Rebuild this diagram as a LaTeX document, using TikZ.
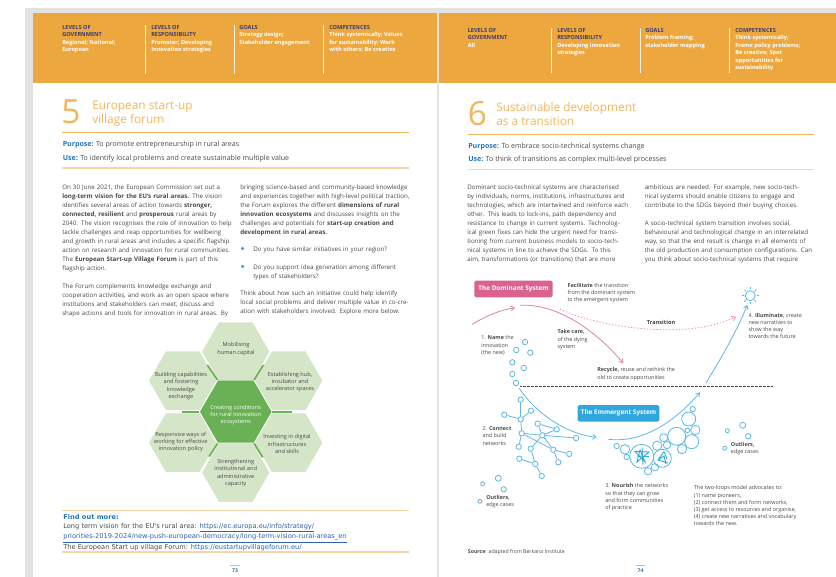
\documentclass[tikz,border=0pt]{standalone}
\usepackage{fontspec}
\setmainfont{Open Sans}
\newfontfamily\fallbackfont{DejaVu Sans}
\usetikzlibrary{shapes.geometric,arrows.meta}
\definecolor{orangeband}{HTML}{ECA83F}
\definecolor{titleorange}{HTML}{F3B65C}
\definecolor{paleorange}{HTML}{F9D7A4}
\definecolor{navy}{HTML}{3D3A70}
\definecolor{bodygrey}{HTML}{4A4A4A}
\definecolor{useblue}{HTML}{1F77B8}
\definecolor{hexlight}{HTML}{D5E5C8}
\definecolor{hexdark}{HTML}{6AB055}
\definecolor{pinkbox}{HTML}{D9628F}
\definecolor{lblue}{HTML}{5CB9E6}
\definecolor{boxblue}{HTML}{2FA6DE}
\definecolor{linkblue}{HTML}{2F62A8}
\definecolor{edge}{HTML}{E2E2E2}
\newcommand\jl[1]{\par\noindent\hbox to\hsize{#1}\par}
\newcommand\hb[1]{\textcolor{navy}{#1}}
\newcommand\blink[1]{\textcolor{linkblue}{\underline{#1}}}
\tikzset{
  x=0.75pt,y=-0.75pt,
  txt/.style={anchor=north west,inner sep=0,align=left,text=bodygrey},
  head/.style={txt,text=white,font=\fontsize{4.2}{5.6}\selectfont\bfseries},
  sep/.style={draw=white!85!orangeband,line width=.7pt},
  titletext/.style={txt,text=titleorange,font=\fontsize{8.9}{10.4}\selectfont},
  bignum/.style={anchor=center,inner sep=0,text=titleorange,font=\fontsize{25}{25}\selectfont},
  toprule/.style={draw=titleorange,line width=.7pt},
  softrule/.style={draw=paleorange,line width=.9pt},
  purp/.style={txt,font=\fontsize{5.3}{6.5}\selectfont},
  bodycol/.style={txt,text width=126.75pt,font=\fontsize{4.65}{6.75}\selectfont},
  small/.style={txt,font=\fontsize{4.08}{5.4}\selectfont},
  hexcell/.style={regular polygon,regular polygon sides=6,fill=hexlight,draw=white,line width=.9pt,inner sep=0,minimum size=51.8pt},
  hexcore/.style={hexcell,fill=hexdark,draw=none,minimum size=53.7pt},
  hextext/.style={align=center,inner sep=0,text=bodygrey,font=\fontsize{4.2}{5.5}\selectfont},
  spoke/.style={draw=hexdark,line width=1.3pt},
  bub/.style={circle,draw=lblue,line width=.6pt,inner sep=0,fill=white,minimum size=#1*1.5pt},
  link/.style={draw=lblue,line width=.6pt},
  flow/.style={line width=.6pt,-{Straight Barb[length=2.6pt,width=3.6pt]}},
  sysbox/.style={rounded corners=1.2pt,minimum height=12.4pt,inner sep=0,text=white,font=\fontsize{4.8}{6}\selectfont\bfseries},
  mini/.style={draw=boxblue,line width=.65pt},
  pageno/.style={inner sep=0,text=useblue,font=\fontsize{3.8}{5}\selectfont\bfseries},
}
\begin{document}
\begin{tikzpicture}
\useasboundingbox (0,0) rectangle (836,577);
\fill[white] (0,0) rectangle (836,577);
% page edges
\fill[edge] (25,8) rectangle (836,13.5);
\fill[edge] (25,8) rectangle (33,577);
\fill[edge] (437,13.5) rectangle (438.5,577);
% bands
\fill[orangeband] (33,13.5) rectangle (437,83);
\fill[orangeband] (438.5,13.5) rectangle (836,83);
\foreach \sx in {145.5,234.5,323.5} \draw[sep] (\sx,25) -- (\sx,74);
\foreach \sx in {551,640,729} \draw[sep] (\sx,28) -- (\sx,73);
\node[head] (la) at (62,25.1) {\hb{LEVELS OF}\\\hb{GOVERNMENT}\\Regional; National;\\European};
\node[head] (lb) at (151,25.1) {\hb{LEVELS OF}\\\hb{RESPONSIBILITY}\\Promoter; Developing\\Innovation strategies};
\node[head] (lc) at (239,25.1) {\hb{GOALS}\\Strategy design;\\Stakeholder engagement};
\node[head] (ld) at (329,25.1) {\hb{COMPETENCES}\\Think systemically; Values\\for sustainability; Work\\with others; Be creative};
\node[head] (ra) at (467.5,28) {\hb{LEVELS OF}\\\hb{GOVERNMENT}\\All};
\node[head] (rb) at (557,28) {\hb{LEVELS OF}\\\hb{RESPONSIBILITY}\\Developing innovation\\strategies};
\node[head] (rc) at (645,28) {\hb{GOALS}\\Problem framing;\\stakeholder mapping};
\node[head] (rd) at (735,28) {\hb{COMPETENCES}\\Think systemically;\\Frame policy problems;\\Be creative; Spot\\opportunities for\\sustainability};
% titles
\node[bignum] (n5) at (71,111.5) {5};
\node[titletext] (t5) at (92,100.5) {European start-up\\village forum};
\node[bignum] (n6) at (477.5,113.5) {6};
\node[titletext] (t6) at (496,102.5) {Sustainable development\\as a transition};
\draw[toprule] (62,132.3) -- (409,132.3);
\draw[toprule] (467.5,134.5) -- (814,134.5);
\node[purp] (p5) at (62.5,141) {\textcolor{useblue}{\bfseries Purpose:} To promote entrepreneurship in rural areas};
\node[purp] (u5) at (62.5,154.5) {\textcolor{useblue}{\bfseries Use:} To identify local problems and create sustainable multiple value};
\node[purp] (p6) at (468,143) {\textcolor{useblue}{\bfseries Purpose:} To embrace socio-technical systems change};
\node[purp] (u6) at (468,156) {\textcolor{useblue}{\bfseries Use:} To think of transitions as complex multi-level processes};
\draw[softrule] (62,168) -- (409,168);
\draw[softrule] (467.5,169.5) -- (814,169.5);
% left page text
\node[bodycol] (b1) at (62,180) {%
\jl{On 30 June 2021, the European Commission set out a}%
\jl{\bfseries long-term vision for the EU's rural areas. \mdseries The vision}%
\jl{identifies several areas of action towards \bfseries stronger,}%
\jl{\bfseries connected, resilient \mdseries and \bfseries prosperous \mdseries rural areas by}%
\jl{2040. The vision recognises the role of innovation to help}%
\jl{tackle challenges and reap opportunities for wellbeing}%
\jl{and growth in rural areas and includes a specific flagship}%
\jl{action on research and innovation for rural communities.}%
\jl{The \bfseries European Start-up Village Forum \mdseries is part of this}%
\par\noindent flagship action.\par\vspace{6.75pt}%
\jl{The Forum complements knowledge exchange and}%
\jl{cooperation activities, and work as an open space where}%
\jl{institutions and stakeholders can meet, discuss and}%
\jl{shape actions and tools for innovation in rural areas. By}};
\node[bodycol] (b2) at (240,180) {%
\jl{bringing science-based and community-based knowledge}%
\jl{and experiences together with high-level political traction,}%
\jl{the Forum explores the different \bfseries dimensions of rural}%
\jl{\bfseries innovation ecosystems \mdseries and discusses insights on the}%
\jl{challenges and potentials for \bfseries start-up creation and}%
\par\noindent\textbf{development in rural areas.}};
\node[circle,fill=boxblue,inner sep=0,minimum size=2.6pt] (d1) at (242.7,248.5) {};
\node[circle,fill=boxblue,inner sep=0,minimum size=2.6pt] (d2) at (242.7,266.5) {};
\node[bodycol,text width=117pt] (q1) at (253,246.5) {Do you have similar initiatives in your region?};
\node[bodycol,text width=117pt] (q2) at (253,260.5) {%
\jl{Do you support idea generation among different}%
\par\noindent types of stakeholders?};
\node[bodycol] (b3) at (240,286) {%
\jl{Think about how such an initiative could help identify}%
\jl{local social problems and deliver multiple value in co-cre-}%
\par\noindent ation with stakeholders involved. Explore more below.};
% hexagons
\node[hexcell] (hT) at (235.8,351.7) {};
\node[hexcell] (hUL) at (182.7,380.7) {};
\node[hexcell] (hUR) at (288.7,380.7) {};
\node[hexcell] (hLL) at (182.7,442.7) {};
\node[hexcell] (hLR) at (288.7,442.7) {};
\node[hexcell] (hB) at (235.8,472.5) {};
\node[hexcore] (core) at (235.8,411.7) {};
\coordinate (s1) at (207.3,365);
\coordinate (s2) at (181.7,411.7);
\coordinate (s3) at (209,456.7);
\coordinate (s4) at (262.7,457.3);
\coordinate (s5) at (291.7,411.7);
\coordinate (s6) at (263.3,365);
\draw[spoke] (core.120) -- (s1);
\draw[spoke] (core.180) -- (s2);
\draw[spoke] (core.240) -- (s3);
\draw[spoke] (core.300) -- (s4);
\draw[spoke] (core.0) -- (s5);
\draw[spoke] (core.60) -- (s6);
\node[hextext,text=white] (tc) at (235.7,415) {Creating conditions\\for rural innovation\\ecosystems};
\node[hextext] (tT) at (236,349) {Mobilising\\human capital};
\node[hextext] (tUL) at (181,386) {Building capabilities\\and fostering\\knowledge\\exchange};
\node[hextext] (tUR) at (290,382) {Establishing hub,\\incubator and\\accelerator spaces};
\node[hextext] (tLL) at (180.7,442) {Responsive ways of\\working for effective\\innovation policy};
\node[hextext] (tLR) at (287,444) {Investing in digital\\infrastructures\\and skills};
\node[hextext] (tB) at (235.7,473) {Strengthening\\institutional and\\administrative\\capacity};
% find out more
\draw[softrule] (62,510.7) -- (409,510.7);
\node[txt,font=\fallbackfont\fontsize{5}{6.75}\selectfont] (fm) at (63,514) {\textcolor{useblue}{\bfseries Find out more:}\\
Long term vision for the EU's rural area: \blink{https://ec.europa.eu/info/strategy/}\\
\blink{priorities-2019-2024/new-push-european-democracy/long-term-vision-rural-areas\_en}\\
The European Start up village Forum: \blink{https://eustartupvillageforum.eu/}};
\draw[softrule] (62,552) -- (409,552);
\draw[draw=titleorange,line width=.5pt] (230,565) -- (240,565);
\node[pageno] (pg73) at (235,571) {73};
% right page text
\node[bodycol] (c1) at (467,180) {%
\jl{Dominant socio-technical systems are characterised}%
\jl{by individuals, norms, institutions, infrastructures and}%
\jl{technologies, which are intertwined and reinforce each}%
\jl{other. This leads to lock-ins, path dependency and}%
\jl{resistance to change in current systems. Technolog-}%
\jl{ical green fixes can hide the urgent need for transi-}%
\jl{tioning from current business models to socio-tech-}%
\jl{nical systems in line to achieve the SDGs. To this}%
\jl{aim, transformations (or transitions) that are more}};
\node[bodycol] (c2) at (644.5,180) {%
\jl{ambitious are needed. For example, new socio-tech-}%
\jl{nical systems should enable citizens to engage and}%
\jl{contribute to the SDGs beyond their buying choices.}%
\par\vspace{6.75pt}%
\jl{A socio-technical system transition involves social,}%
\jl{behavioural and technological change in an interrelated}%
\jl{way, so that the end result is change in all elements of}%
\jl{the old production and consumption configurations. Can}%
\jl{you think about socio-technical systems that require}};
% diagram
\node[sysbox,fill=pinkbox,minimum width=58.8pt] (dom) at (513.5,289) {The Dominant System};
\node[sysbox,fill=boxblue,minimum width=61.2pt] (eme) at (618.5,413.3) {The Emmergent System};
\coordinate (pa) at (472.3,324.3);
\coordinate (pb) at (515,307.7);
\coordinate (pc) at (520,305.3);
\coordinate (pd) at (623.3,363.3);
\coordinate (pe) at (560,309);
\coordinate (pf) at (736,316.7);
\draw[flow,pinkbox!80!white] (pa) .. controls (485,316.5) and (500,310) .. (pb);
\draw[flow,pinkbox!80!white] (pc) .. controls (560,303) and (600,335) .. (pd);
\draw[flow,pinkbox!70!white,dash pattern=on 1pt off 1.4pt] (pe) .. controls (590,325) and (685,342) .. (pf);
\coordinate (da) at (520,386.3);
\coordinate (db) at (773,386.3);
\draw[draw=black!70,line width=.35pt,dash pattern=on .6pt off .4pt] (da) -- (db);
\coordinate (ba) at (519.3,388.3);
\coordinate (bb) at (596.7,437.3);
\coordinate (bc) at (608.3,439.3);
\coordinate (bd) at (700,392.3);
\coordinate (be) at (705.7,383.3);
\coordinate (bf) at (747.3,305);
\node[circle,draw=lblue,line width=.6pt,inner sep=0,minimum size=7.5pt] (sun) at (750.3,295.7) {};
\foreach \ang in {0,45,...,315}
  \draw[lblue,line width=.6pt] ([shift={(\ang:.6pt)}]sun.\ang) -- ([shift={(\ang:2.3pt)}]sun.\ang);
\draw[flow,lblue] (ba) .. controls (535,412) and (565,434) .. (bb);
\draw[flow,lblue] (bc) .. controls (640,443) and (672,425) .. (bd);
\draw[flow,lblue] (be) .. controls (720,360) and (735,335) .. (bf);
% labels
\node[small] (lfac) at (567.3,283.2) {\textbf{Facilitate} the transition\\from the dominant system\\to the emergent system};
\node[small,font=\fontsize{4.2}{5}\selectfont\bfseries,text=black!75] (ltr) at (646.7,320) {Transition};
\node[small] (ltake) at (557.3,329.5) {\textbf{Take care,}\\of the dying\\system};
\node[small] (lname) at (481,335.5) {1. \textbf{Name} the\\innovation\\(the new)};
\node[small] (lrec) at (597,367.5) {\textbf{Recycle,} reuse and rethink the\\old to create opportunities};
\node[small] (lill) at (748.3,313) {4. \textbf{Illuminate,} create\\new narratives to\\show the way\\towards the future};
\node[small] (lcon) at (482.3,426.5) {2. \textbf{Connect}\\and build\\networks};
\node[small] (lout1) at (486,494.8) {\textbf{Outliers,}\\edge cases};
\node[small] (lout2) at (730.7,441.8) {\textbf{Outliers,}\\edge cases};
\node[small] (lnou) at (605,483.5) {3. \textbf{Nourish} the networks\\so that they can grow\\and form communities\\of practice};
\node[small] (ltwo) at (693.7,485.5) {The two-loops model advocates to:\\(1) name pioneers,\\(2) connect them and form networks,\\(3) get access to resources and organise,\\(4) create new narratives and vocabulary\\towards the new.};
\node[small,font=\fontsize{3.9}{5}\selectfont] (lsrc) at (467.7,549) {\textbf{Source}: adapted from Berkana Institute};
\draw[draw=titleorange,line width=.5pt] (636,565) -- (645,565);
\node[pageno] (pg74) at (640.5,571) {74};
% name loop circles
\foreach \nm/\cx/\cy in {a1/525/342,a2/516.3/350,a3/530.3/352.7,a4/512.3/362.3,a5/523.7/368,a6/512.3/374,a7/516/383}
  \node[bub=2.7] (\nm) at (\cx,\cy) {};
% network
\foreach \nm/\cx/\cy in {c1/520.7/399.7,c2/504.3/414.7,c3/531/410.7,c4/520.7/419.3,c5/521.7/433.3,c6/537.7/423.7,c7/556.7/429.3,c8/542.3/435.3,c9/576/438,c10/518.7/446.7,c11/530.7/448.7,c12/553.3/449.7,c13/569.3/454,c14/558.3/462.3,c15/519.3/458.7,c16/535.3/464,c17/541.7/476}
  \node[bub=2.7] (\nm) at (\cx,\cy) {};
\foreach \pa/\pb in {c1/c4,c2/c4,c3/c4,c4/c5,c5/c8,c5/c10,c5/c12,c6/c7,c6/c8,c7/c8,c8/c9,c8/c11,c8/c12,c12/c13,c12/c14,c11/c16,c15/c16,c16/c17}
  \draw[link] (\pa) -- (\pb);
% outliers
\node[bub=3] (o1) at (498.3,478.3) {};
\node[bub=2] (o2) at (482.7,483.7) {};
\node[bub=2.7] (o3) at (503.7,489.3) {};
\node[bub=2] (o4) at (480,501.3) {};
\node[bub=3] (o5) at (742.7,425.3) {};
\node[bub=2] (o6) at (727.3,430.7) {};
\node[bub=2.7] (o7) at (748.3,436.3) {};
\node[bub=2] (o8) at (724.7,448.3) {};
% bubbles
\foreach \nm/\cx/\cy/\rr in {e1/692.7/409/2.7,e2/688.7/419/7,e3/695.3/430/4.7,e4/687.3/430.3/2.3,e5/691.7/441.7/7,e6/682/449/4.7,e7/676.7/436.3/9,e8/663.7/437.7/4,e9/667/445/3.7,e10/657.3/445.7/4.7,e11/625/449.3/4.7,e12/616.7/446/2.7,e13/626.7/457/2.7,e14/648/471.3/3.7,e15/655/467.3/3.7,e16/641.7/456.3/12,e17/662.3/458.3/9}
  \node[bub=\rr,fill=none] (\nm) at (\cx,\cy) {};
% inner networks
\draw[mini] (640,449.7) -- (645,462) -- (635,451.5) -- (649,452) -- (637,462) -- (640,449.7);
\draw[mini] (637,456) -- (649,456.5) (642,447.5) -- (643,465);
\draw[mini] (664,451.5) -- (658,460) -- (668,463) (658,460) -- (664,456) -- (666,464) (664,451.5) -- (667,459);
\end{tikzpicture}
\end{document}
